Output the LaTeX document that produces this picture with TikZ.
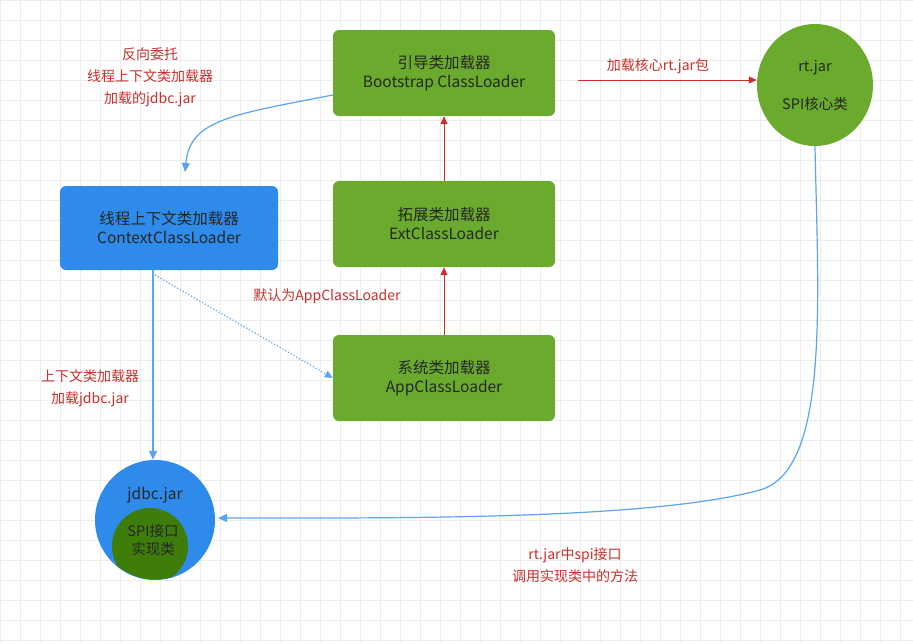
\documentclass[tikz,border=0pt]{standalone}
\usepackage{fontspec}
\setmainfont{Noto Sans CJK SC}
\usetikzlibrary{arrows.meta,shapes.geometric}
\definecolor{gr}{HTML}{6AAB2E}
\definecolor{dg}{HTML}{3F7D0B}
\definecolor{bl}{HTML}{2F8BEA}
\definecolor{lb}{HTML}{5AA5F0}
\definecolor{rd}{HTML}{C8302C}
\tikzset{
 box/.style={rounded corners=6pt,minimum width=222pt,minimum height=86pt,align=center,font=\fontsize{15.5}{19}\selectfont,text=black!85},
 gbox/.style={box,fill=gr},
 lbl/.style={text=rd,align=center,font=\fontsize{14}{22}\selectfont},
 rarr/.style={rd,line width=1pt,-{Triangle[length=8pt,width=7pt]}},
 barr/.style={lb,line width=1.2pt,-{Triangle[length=9pt,width=8pt]}}
}
\begin{document}
\begin{tikzpicture}[x=1pt,y=-1pt]
\fill[white] (0,0) rectangle (913,643);
\useasboundingbox (0,0) rectangle (913,643);
\draw[black!7,line width=0.5pt] (0,0) grid[step=20pt] (913,643);
\node[gbox] (boot) at (444,73) {引导类加载器\\Bootstrap ClassLoader};
\node[gbox] (ext) at (444,224) {拓展类加载器\\ExtClassLoader};
\node[gbox] (app) at (444,378) {系统类加载器\\AppClassLoader};
\node[box,fill=bl,minimum width=218pt,minimum height=84pt] (ctx) at (169,228) {线程上下文类加载器\\ContextClassLoader};
\node[ellipse,fill=gr,minimum width=116pt,minimum height=122pt,align=center,font=\fontsize{14.5}{38}\selectfont,text=black!85] (rt) at (815,85) {rt.jar\\SPI核心类};
\node[circle,fill=bl,minimum size=120pt] (jdbc) at (155,520) {};
\begin{scope}
\clip (155,520) circle (59.5);
\fill[dg] (150,546) circle (38);
\end{scope}
\node[font=\fontsize{15.5}{19}\selectfont,text=black!85] (jt) at (155,495) {jdbc.jar};
\node[font=\fontsize{14.5}{18}\selectfont,text=black!85,align=center] (spi) at (153,540) {SPI接口\\实现类};
\draw[rarr] (ext.north) -- (boot.south);
\draw[rarr] (app.north) -- (ext.south);
\coordinate (r1) at (578,80);
\draw[rarr] (r1) -- (rt.west |- r1);
\node[lbl] (l1) at (658,66) {加载核心rt.jar包};
\draw[barr] (boot.west) ++(0,22) coordinate (b1) .. controls (230,115) and (190,120) .. (185,172);
\node[lbl] (l2) at (150,77) {反向委托\\线程上下文类加载器\\加载的jdbc.jar};
\draw[barr] (ctx.south -| 153,0) -- (jdbc.north -| 153,0);
\node[lbl] (l3) at (90,388) {上下文类加载器\\加载jdbc.jar};
\draw[lb,line width=1.2pt,dotted,-{Triangle[length=8pt,width=7pt]}] (155,275) -- (app.west);
\node[lbl] (l4) at (327,296) {默认为AppClassLoader};
\draw[barr] (rt.south) .. controls (818,300) and (830,470) .. (760,490) .. controls (650,520) and (400,518) .. (218,518);
\node[lbl] (l5) at (575,565) {rt.jar中spi接口\\调用实现类中的方法};
\end{tikzpicture}
\end{document}
